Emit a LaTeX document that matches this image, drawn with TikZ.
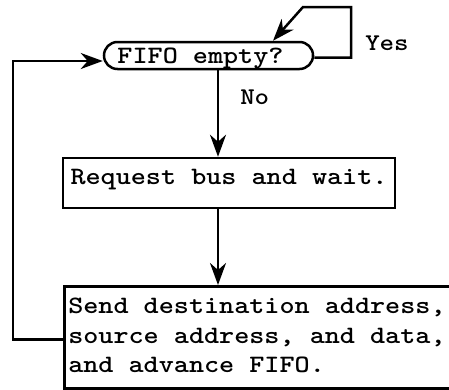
\documentclass[tikz,border=0pt]{standalone}
\usepackage{fontspec}
\usepackage{graphicx}
\usetikzlibrary{arrows.meta,shapes.misc,calc}
% typewriter text, a little widened
\newcommand{\widetext}[1]{\scalebox{1.15}[1]{#1}}

\begin{document}
\begin{tikzpicture}[x=1pt,y=-1pt,line width=2.5pt,
  flow/.style={-{Stealth[length=22pt,width=16pt,inset=7pt]}},
  txt/.style={font=\ttfamily\bfseries\fontsize{25}{29.5}\selectfont},
  stepbox/.style={draw,rectangle,txt,inner sep=0pt},
  test/.style={draw,rounded rectangle,txt,minimum width=203pt,minimum height=27pt,inner sep=0pt},
  lab/.style={font=\ttfamily\bfseries\fontsize{24}{24}\selectfont,inner sep=0pt}]
\useasboundingbox (0,0) rectangle (449,389);
\fill[white] (0,0) rectangle (449,389);

% boxes
\node[test,text height=21pt,text depth=6pt] (fifo) at (208.5,55.5)
  {\widetext{FIFO empty?}\kern16pt};
\node[stepbox,minimum width=332pt,minimum height=50pt,text height=16pt,text depth=14pt]
  (req) at (229,183) {\widetext{Request bus and wait.}};
\node[stepbox,anchor=north west,minimum width=600pt,minimum height=102pt,inner xsep=4pt]
  (send) at (63,285) {\makebox[592pt][l]{\widetext{\begin{tabular}{@{}l@{}}
    Send destination address,\\source address, and data,\\and advance FIFO.\end{tabular}}}};

% guide points for the connectors
\coordinate (col) at (218,0);
\coordinate (yr) at (351,7);
\coordinate (yl) at (303,7);
\coordinate (lx) at (13,61);

% main flow
\draw[flow] (fifo.south -| col) -- (req.north -| col);
\draw[flow] (req.south -| col) -- (send.north -| col);
\node[lab,anchor=west] (no) at (239,97) {\widetext{No}};

% wait while empty
\draw[flow] ($(fifo.east)+(0,2)$) -| (yr) -- (yl) -- ($(fifo.north)+(64.5,0)$);
\node[lab,anchor=west] (yes) at (364,43) {\widetext{Yes}};

% back to the test
\draw[flow] ($(send.west)+(0,2)$) -| (lx) -- (fifo.west |- lx);
\end{tikzpicture}
\end{document}
